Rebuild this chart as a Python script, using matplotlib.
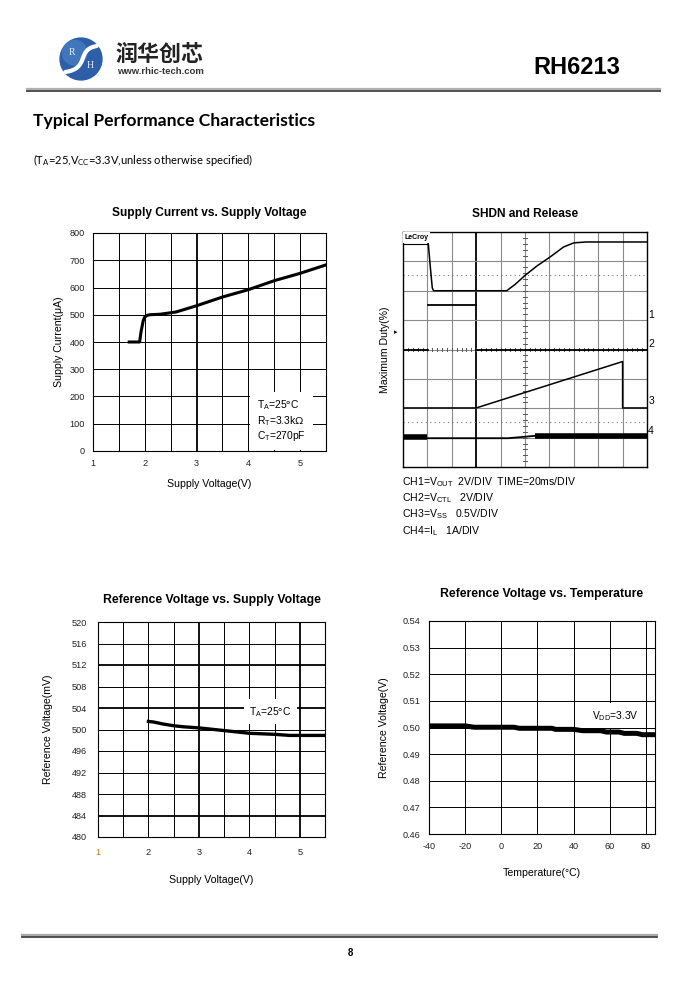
import numpy as np
import matplotlib.pyplot as plt
from matplotlib.patches import Circle, PathPatch
from matplotlib.path import Path
from matplotlib.lines import Line2D

# ---data--- #
sup_v = [1.7, 1.9, 1.93, 1.97, 2.0, 2.05, 2.1, 2.3, 2.6, 3.0, 3.5, 4.0, 4.5, 5.0, 5.5]
sup_i = [400, 400, 440, 478, 492, 498, 500, 502, 510, 533, 565, 592, 625, 652, 683]

ref_v = [2.0, 2.1, 2.3, 2.5, 2.7, 3.0, 3.3, 3.5, 3.8, 4.0, 4.5, 4.8, 5.0, 5.5]
ref_mv = [501.5, 501.4, 501.0, 500.7, 500.5, 500.3, 500.0, 499.8, 499.5, 499.3, 499.1, 498.9, 498.9, 498.9]

temp_c = [-40, -20, -15, 0, 7, 10, 28, 30, 40, 45, 55, 58, 65, 68, 75, 78, 85]
ref_t = [0.5006, 0.5006, 0.5001, 0.5001, 0.5001, 0.4997, 0.4997, 0.4993, 0.4993, 0.4988,
         0.4988, 0.4983, 0.4983, 0.4978, 0.4978, 0.4973, 0.4973]

# scope traces, in divisions (10 x 8)
ch1_x = [0, 1.03, 1.12, 1.2, 1.25, 4.25, 4.6, 5.0, 5.5, 6.03, 6.58, 7.0, 7.5, 10]
ch1_y = [7.66, 7.66, 6.8, 6.1, 6.0, 6.0, 6.22, 6.52, 6.85, 7.15, 7.49, 7.63, 7.66, 7.66]
ch2_x = [0, 1.03, np.nan, 1.03, 3.0, np.nan, 3.0, 10]
ch2_y = [4.0, 4.0, np.nan, 5.52, 5.52, np.nan, 4.0, 4.0]
ch3_x = [0, 3.0, 9.0, 9.0, 10]
ch3_y = [2.01, 2.01, 3.59, 2.01, 2.01]
ch4_x = [1.0, 4.3, 5.0, 5.4]
ch4_y = [0.98, 0.98, 1.03, 1.06]
ch4_busy_x = [0, 1.0, np.nan, 5.4, 10]
ch4_busy_y = [1.01, 1.01, np.nan, 1.07, 1.07]
ch_marks = ['1', '2', '3', '4']
ch_mark_y = [5.16, 4.2, 2.26, 1.24]
ch_notes = [r'CH1=V$_{\mathsf{OUT}}$  2V/DIV  TIME=20ms/DIV',
            r'CH2=V$_{\mathsf{CTL}}$   2V/DIV',
            r'CH3=V$_{\mathsf{SS}}$   0.5V/DIV',
            r'CH4=I$_{\mathsf{L}}$   1A/DIV']

W, H = 700, 990
plt.rcParams['font.family'] = ['Liberation Sans', 'DejaVu Sans']
plt.rcParams['mathtext.fontset'] = 'custom'
plt.rcParams['mathtext.sf'] = 'Liberation Sans'
plt.rcParams['mathtext.rm'] = 'Lato'
plt.rcParams['mathtext.it'] = 'Liberation Sans'
plt.rcParams['axes.unicode_minus'] = False

fig = plt.figure(figsize=(7, 9.9), dpi=100)


def box(l, t, r, b):
    return [l / W, 1 - b / H, (r - l) / W, (b - t) / H]


def ftext(x, y, s, **kw):
    fig.text(x / W, 1 - y / H, s, **kw)


def plain_grid(ax, xs, ys, bold_x=(), bold_y=()):
    for v in xs:
        ax.axvline(v, color='black', lw=1.3 if v in bold_x else 0.7, zorder=1)
    for v in ys:
        ax.axhline(v, color='black', lw=1.3 if v in bold_y else 0.7, zorder=1)
    ax.tick_params(length=0, pad=6, labelcolor='#222222')
    for s in ax.spines.values():
        s.set_linewidth(0.8)


# ---header--- #
lax = fig.add_axes(box(58, 37, 104, 81))
lax.set_xlim(-1.05, 1.05)
lax.set_ylim(-1.05, 1.05)
lax.set_aspect('equal')
lax.axis('off')
lax.add_patch(Circle((0, 0), 1.0, color='#2c5fa8'))
lax.add_patch(Circle((-0.3, 0.3), 0.62, color='#5b95d0', alpha=0.45, lw=0))
swoosh = Path([(0.75, 0.62), (-0.25, 0.45), (0.45, -0.45), (-0.75, -0.62)],
              [Path.MOVETO, Path.CURVE4, Path.CURVE4, Path.CURVE4])
lax.add_patch(PathPatch(swoosh, facecolor='none', edgecolor='white', lw=3.0,
                        capstyle='round'))
lax.text(-0.42, 0.3, 'R', family='Liberation Serif', fontsize=7, color='#e6eef8',
         ha='center', va='center')
lax.text(0.42, -0.32, 'H', family='Liberation Serif', fontsize=7, color='#e6eef8',
         ha='center', va='center')

ftext(115, 54, '润华创芯', family=['Noto Sans CJK SC', 'DejaVu Sans'], fontsize=15.8,
      weight='bold', color='#222222', va='center')
ftext(117, 71, 'www.rhic-tech.com', fontsize=6.8, weight='bold', color='#333333', va='center')
ftext(620, 67, 'RH6213', fontsize=17, weight='bold', ha='right', va='center')
fig.add_artist(Line2D([27 / W, 660 / W], [1 - 88.5 / H] * 2, color='#b0b0b0', lw=1.6))
fig.add_artist(Line2D([27 / W, 660 / W], [1 - 90.5 / H] * 2, color='#505050', lw=1.4))

ftext(33, 121, 'Typical Performance Characteristics', family=['Lato', 'DejaVu Sans'],
      fontsize=12.6, weight='bold', va='center')
ftext(33, 160, r'(T$_{\mathrm{A}}$=25,V$_{\mathrm{CC}}$=3.3V,unless otherwise specified)',
      family=['Lato', 'DejaVu Sans'], fontsize=8.0, va='center')

# ---supply current--- #
ax1 = fig.add_axes(box(93, 233, 326, 451))
ax1.plot(sup_v, sup_i, color='black', lw=2.2, zorder=3)
ax1.set_xlim(1, 5.5)
ax1.set_ylim(0, 800)
ax1.set_xticks([1, 2, 3, 4, 5])
ax1.set_yticks(range(0, 801, 100))
ax1.tick_params(labelsize=6.6)
plain_grid(ax1, np.arange(1.5, 5.5, 0.5), range(100, 800, 100), bold_x=(3.0,))
ax1.set_title('Supply Current vs. Supply Voltage', fontsize=8.6, weight='bold', pad=12)
ax1.set_xlabel('Supply Voltage(V)', fontsize=7.6, labelpad=8)
ax1.set_ylabel('Supply Current(μA)', fontsize=7.6, labelpad=4)
ax1.text(0.705, 0.138, r'T$_{\mathsf{A}}$=25$\degree$C' + '\n' + r'R$_{\mathsf{T}}$=3.3k$\Omega$'
         + '\n' + r'C$_{\mathsf{T}}$=270pF', transform=ax1.transAxes, fontsize=7.4,
         va='center', linespacing=1.15,
         bbox=dict(facecolor='white', edgecolor='none', pad=5), zorder=4)

# ---scope--- #
ax2 = fig.add_axes(box(403, 232, 647, 467))
ax2.set_xlim(0, 10)
ax2.set_ylim(0, 8)
ax2.set_xticks([])
ax2.set_yticks([])
for v in range(1, 10):
    ax2.axvline(v, color='black' if v == 3 else '#8a8a8a', lw=1.3 if v == 3 else 0.8, zorder=1)
for v in range(1, 8):
    ax2.axhline(v, color='#8a8a8a', lw=0.8, zorder=1)
for v in np.arange(0.2, 8, 0.2):
    ax2.plot([4.9, 5.1], [v, v], color='#555555', lw=0.7, zorder=1)
for v in np.arange(0.2, 10, 0.2):
    ax2.plot([v, v], [3.94, 4.06], color='#555555', lw=0.7, zorder=1)
for yy in [6.52, 1.52]:
    ax2.axhline(yy, color='#777777', lw=0.8, ls=(0, (1, 3)), zorder=1)
ax2.plot(ch1_x, ch1_y, color='black', lw=1.1, zorder=3)
ax2.plot(ch2_x, ch2_y, color='black', lw=1.3, zorder=3)
ax2.plot(ch3_x, ch3_y, color='black', lw=1.1, zorder=3)
ax2.plot(ch4_x, ch4_y, color='black', lw=1.3, zorder=3)
ax2.plot(ch4_busy_x, ch4_busy_y, color='black', lw=4.0, solid_capstyle='butt', zorder=3)
for m, yy in zip(ch_marks, ch_mark_y):
    ax2.text(10.05, yy, m, fontsize=7.5, va='center', ha='left', clip_on=False)
ax2.text(-0.3, 4.6, '▸', fontsize=5, va='center', ha='center', family='DejaVu Sans')
ax2.text(0.05, 7.93, 'LeCroy', fontsize=5, va='top', ha='left', weight='bold',
         bbox=dict(facecolor='white', edgecolor='none', pad=1.2), zorder=4)
ax2.plot([0, 1.0], [7.58, 7.58], color='black', lw=0.8, zorder=5)
for s in ax2.spines.values():
    s.set_linewidth(1.0)
ax2.set_title('SHDN and Release', fontsize=8.6, weight='bold', pad=11)
ax2.set_ylabel('Maximum Duty(%)', fontsize=7.6, labelpad=9)
for i, s in enumerate(ch_notes):
    ftext(402, 482 + 16.2 * i, s, fontsize=7.6, va='center')

# ---ref voltage vs supply--- #
ax3 = fig.add_axes(box(98, 622, 325, 837))
ax3.plot(ref_v, ref_mv, color='black', lw=2.4, zorder=3)
ax3.set_xlim(1, 5.5)
ax3.set_ylim(480, 520)
ax3.set_xticks([1, 2, 3, 4, 5])
ax3.set_yticks(range(480, 521, 4))
ax3.tick_params(labelsize=6.6)
plain_grid(ax3, np.arange(1.5, 5.5, 0.5), range(484, 520, 4),
           bold_x=(3.0, 5.0), bold_y=(512, 504, 484))
ax3.tick_params(pad=8)
ax3.get_xticklabels()[0].set_color('#c8781e')
ax3.set_title('Reference Voltage vs. Supply Voltage', fontsize=8.8, weight='bold', pad=14)
ax3.set_xlabel('Supply Voltage(V)', fontsize=7.6, labelpad=13)
ax3.set_ylabel('Reference Voltage(mV)', fontsize=7.6, labelpad=13)
ax3.text(0.76, 0.583, r'T$_{\mathsf{A}}$=25$\degree$C', transform=ax3.transAxes,
         fontsize=7.4, ha='center', va='center',
         bbox=dict(facecolor='white', edgecolor='none', pad=4), zorder=4)

# ---ref voltage vs temperature--- #
ax4 = fig.add_axes(box(429, 621, 655, 834))
ax4.plot(temp_c, ref_t, color='black', lw=3.6, zorder=3)
ax4.set_xlim(-40, 85)
ax4.set_ylim(0.46, 0.54)
ax4.set_xticks(range(-40, 81, 20))
ax4.set_yticks(np.arange(0.46, 0.5401, 0.01))
ax4.set_yticklabels(['0.46', '0.47', '0.48', '0.49', '0.50', '0.51', '0.52', '0.53', '0.54'])
ax4.tick_params(labelsize=6.6)
plain_grid(ax4, range(-20, 81, 20), np.arange(0.47, 0.535, 0.01))
ax4.set_title('Reference Voltage vs. Temperature', fontsize=8.8, weight='bold', pad=17)
ax4.set_xlabel('Temperature(°C)', fontsize=7.6, labelpad=12)
ax4.set_ylabel('Reference Voltage(V)', fontsize=7.6, labelpad=10)
ax4.text(0.823, 0.555, r'V$_{\mathsf{DD}}$=3.3V', transform=ax4.transAxes,
         fontsize=7.4, ha='center', va='center',
         bbox=dict(facecolor='white', edgecolor='none', pad=4), zorder=4)

# ---footer--- #
fig.add_artist(Line2D([22 / W, 657 / W], [1 - 935 / H] * 2, color='#a8a8a8', lw=1.6))
fig.add_artist(Line2D([22 / W, 657 / W], [1 - 937 / H] * 2, color='#404040', lw=1.3))
ftext(350, 953, '8', fontsize=7, weight='bold', ha='center', va='center')

plt.savefig('out.png', dpi=100)
